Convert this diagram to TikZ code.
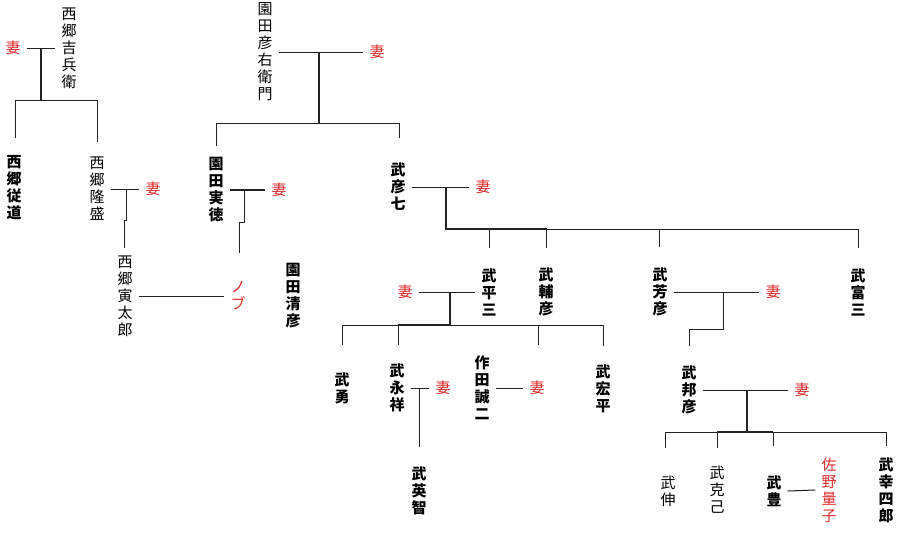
\documentclass[tikz,border=0pt]{standalone}
\usepackage{fontspec}
\setmainfont{Noto Sans CJK JP}
\definecolor{wred}{RGB}{222,45,45}
\definecolor{lc}{RGB}{35,35,35}
\begin{document}
\begin{tikzpicture}[x=1pt,y=-1pt,
  nm/.style={inner xsep=6pt, inner ysep=0pt, align=center, font=\fontsize{15}{17}\selectfont, text=black},
  nb/.style={nm, font=\fontsize{15}{17}\selectfont\bfseries},
  wf/.style={nm, text=wred},
  ln/.style={draw=lc, line width=1pt},
  md/.style={draw=lc, line width=1.5pt},
  thk/.style={draw=lc, line width=2.2pt}]
\useasboundingbox[fill=white] (0,0) rectangle (901,536);
% ---------- Saigo family ----------
\node[nm] (kichibe) at (69,48) {西\\郷\\吉\\兵\\衛};
\node[wf] (w1) at (13,48) {妻};
\node[nb] (judo) at (14,188) {西\\郷\\従\\道};
\node[nm] (takamori) at (97,189) {西\\郷\\隆\\盛};
\node[wf] (w2) at (153,189) {妻};
\node[nm] (tora) at (125,296) {西\\郷\\寅\\太\\郎};
\node[wf] (nobu) at (238,296) {ノ\\ブ};
% ---------- Sonoda family ----------
\node[nm] (hikoemon) at (265,52) {園\\田\\彦\\右\\衛\\門};
\node[wf] (w3) at (377,52) {妻};
\node[nb] (jittoku) at (216,190) {園\\田\\実\\徳};
\node[wf] (w4) at (279,190) {妻};
\node[nb] (kiyohiko) at (293,296) {園\\田\\清\\彦};
% ---------- Take family ----------
\node[nb] (hikoshichi) at (398,187) {武\\彦\\七};
\node[wf] (w5) at (483,187) {妻};
\node[nb] (heizo) at (489,292) {武\\平\\三};
\node[wf] (w6) at (405,292) {妻};
\node[nb] (sukehiko) at (546,292) {武\\輔\\彦};
\node[nb] (yoshihiko) at (660,292) {武\\芳\\彦};
\node[wf] (w7) at (773,292) {妻};
\node[nb] (tomizo) at (858,292) {武\\富\\三};
\node[nb] (isamu) at (342,388) {武\\勇};
\node[nb] (eisho) at (397,388) {武\\永\\祥};
\node[wf] (w8) at (443,388) {妻};
\node[nb] (sakuta) at (482,388) {作\\田\\誠\\二};
\node[wf] (w9) at (537,388) {妻};
\node[nb] (kohei) at (603,389) {武\\宏\\平};
\node[nb] (hidetomo) at (419,491) {武\\英\\智};
\node[nb] (kunihiko) at (689,390) {武\\邦\\彦};
\node[wf] (w10) at (802,390) {妻};
\node[nm] (shin) at (668,491) {武\\伸};
\node[nm] (katsumi) at (717,490) {武\\克\\己};
\node[nb] (yutaka) at (774,491) {武\\豊};
\node[wf] (ryoko) at (829,490) {佐\\野\\量\\子};
\node[nb] (koshiro) at (886,490) {武\\幸\\四\\郎};

% ---------- couple lines ----------
\draw[ln] (w1.east) -- (kichibe.west);
\draw[ln] (takamori.east) -- (w2.west);
\draw[ln] (tora.east) -- (nobu.west);
\draw[ln] (hikoemon.east) -- (w3.west);
\draw[md] (jittoku.east) -- (w4.west);
\draw[ln] (hikoshichi.east) -- (w5.west);
\draw[ln] (w6.east) -- (heizo.west);
\draw[ln] (yoshihiko.east) -- (w7.west);
\draw[ln] (eisho.east) -- (w8.west);
\draw[ln] (sakuta.east) -- (w9.west);
\draw[ln] (kunihiko.east) -- (w10.west);
\draw[ln] (yutaka.east) -- (ryoko.west);

% ---------- descent lines ----------
% Saigo Kichibe
\coordinate (j1) at (41,48);
\coordinate (b1) at (41,100);
\coordinate (d1a) at (15,138);
\coordinate (d1b) at (97,142);
\draw[thk] (j1) -- (b1);
\draw[ln] (d1a) |- (d1b |- b1) -- (d1b);
% Saigo Takamori -> Toratarou
\coordinate (j2) at (126,189);
\coordinate (j2a) at (126,220);
\coordinate (j2b) at (124,220);
\coordinate (d2) at (124,248);
\draw[ln] (j2) -- (j2a) -- (j2b) -- (d2);
% Sonoda Hikoemon
\coordinate (j3) at (319,52);
\coordinate (b3) at (319,123);
\coordinate (d3a) at (216,146);
\coordinate (d3b) at (399,138);
\draw[md] (j3) -- (b3);
\draw[ln] (d3a) |- (d3b |- b3) -- (d3b);
% Sonoda Jittoku -> Nobu
\coordinate (j4) at (244,190);
\coordinate (j4a) at (244,222);
\coordinate (j4b) at (239,222);
\coordinate (d4) at (239,253);
\draw[ln] (j4) -- (j4a) -- (j4b) -- (d4);
% Take Hikoshichi
\coordinate (j5) at (446,187);
\coordinate (b5) at (446,229);
\coordinate (k5) at (547,229);
\coordinate (d5a) at (489,248);
\coordinate (d5b) at (546,248);
\coordinate (d5c) at (659,247);
\coordinate (d5d) at (858,248);
\draw[thk] (j5) -- (b5) -- (k5);
\draw[ln] (k5) -| (d5d);
\draw[ln] (d5a |- b5) -- (d5a);
\draw[ln] (d5b |- b5) -- (d5b);
\draw[ln] (d5c |- b5) -- (d5c);
% Take Heizo
\coordinate (j6) at (450,293);
\coordinate (b6) at (450,325);
\coordinate (k6) at (398,325);
\coordinate (d6a) at (342,345);
\coordinate (d6b) at (398,345);
\coordinate (d6c) at (538,345);
\coordinate (d6d) at (603,346);
\draw[thk] (j6) -- (b6) -- (k6);
\draw[ln] (d6a) |- (k6) -- (d6b);
\draw[ln] (b6) -| (d6d);
\draw[ln] (d6c |- b6) -- (d6c);
% Take Eisho -> Hidetomo
\coordinate (j7) at (419,389);
\coordinate (d7) at (419,447);
\draw[ln] (j7) -- (d7);
% Take Yoshihiko -> Kunihiko
\coordinate (j8) at (723,292);
\coordinate (j8a) at (723,329);
\coordinate (d8) at (689,346);
\draw[ln] (j8) -- (j8a) -| (d8);
% Take Kunihiko
\coordinate (j9) at (747,390);
\coordinate (b9) at (747,432);
\coordinate (k9) at (717,432);
\coordinate (d9a) at (665,448);
\coordinate (d9b) at (717,448);
\coordinate (d9c) at (773,446);
\coordinate (d9d) at (886,446);
\draw[thk] (j9) -- (b9) -- (k9);
\draw[md] (b9) -- (d9c |- b9);
\draw[ln] (d9a) |- (k9) -- (d9b);
\draw[ln] (d9c |- b9) -| (d9d);
\draw[ln] (d9c |- b9) -- (d9c);
\end{tikzpicture}
\end{document}
